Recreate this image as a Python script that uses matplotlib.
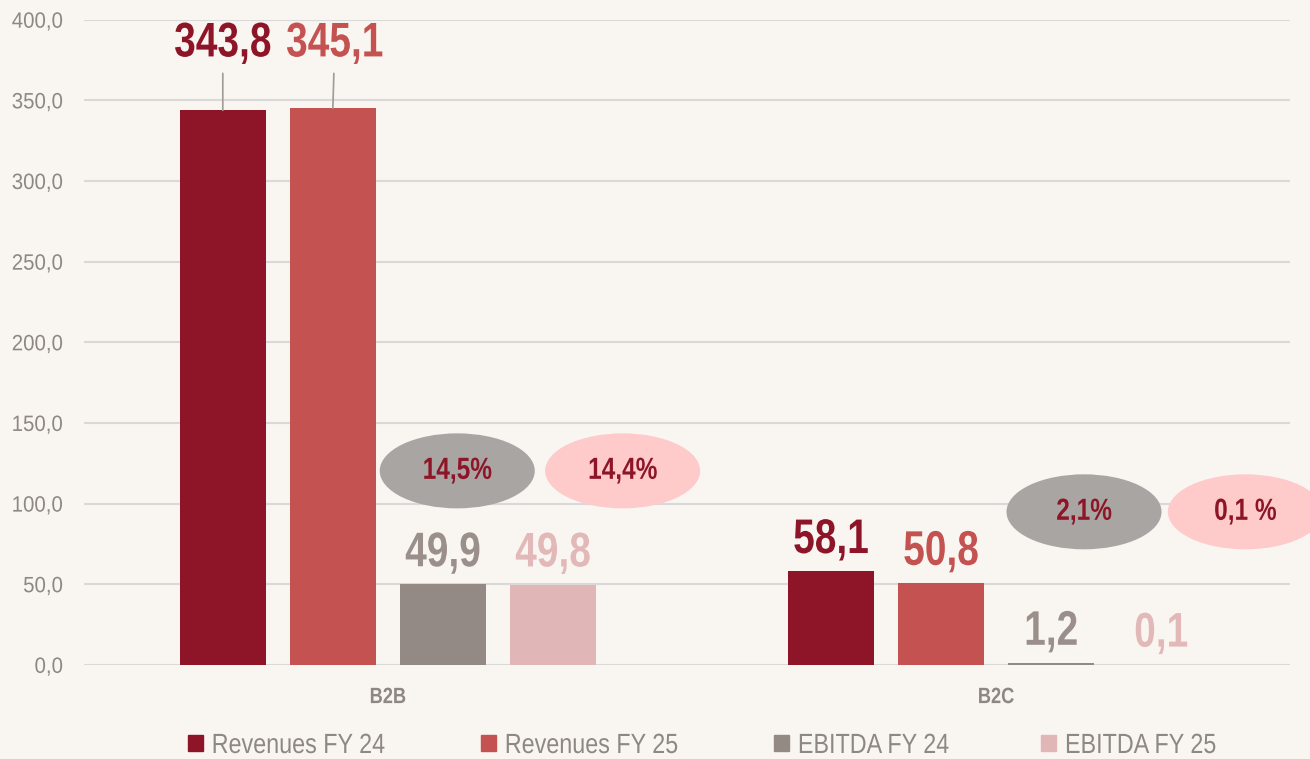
import matplotlib
matplotlib.use('Agg')
import numpy as np
import matplotlib.pyplot as plt
from matplotlib.patches import Ellipse, Patch
from matplotlib.patheffects import AbstractPathEffect
from matplotlib.transforms import Affine2D

plt.rcParams['font.family'] = ['Liberation Sans', 'DejaVu Sans']

# ===== Data =====
categories = ['B2B', 'B2C']
series = ['Revenues FY 24', 'Revenues FY 25', 'EBITDA FY 24', 'EBITDA FY 25']
revenues_fy24 = [343.8, 58.1]
revenues_fy25 = [345.1, 50.8]
ebitda_fy24 = [49.9, 1.2]
ebitda_fy25 = [49.8, 0.1]
margin_fy24 = ['14,5%', '2,1%']
margin_fy25 = ['14,4%', '0,1 %']
yticks = [0, 50, 100, 150, 200, 250, 300, 350, 400]

bar_colors = ['#8E1528', '#C45250', '#948A85', '#E0B6B6']
label_colors = ['#8E1528', '#C45250', '#9A8F8A', '#E2B8B8']
bg = '#F9F6F2'
grey_txt = '#8F8783'


class Squeeze(AbstractPathEffect):
    """narrow the glyphs horizontally (no Arial Narrow here)"""
    def __init__(self, sx, anchor='center'):
        super().__init__()
        self.sx = sx
        self.anchor = anchor

    def draw_path(self, renderer, gc, tpath, affine, rgbFace=None):
        ext = tpath.get_extents()
        cx = {'left': ext.x0, 'right': ext.x1}.get(self.anchor, (ext.x0 + ext.x1) / 2)
        t = Affine2D().translate(-cx, 0).scale(self.sx, 1).translate(cx, 0) + affine
        renderer.draw_path(gc, tpath, t, rgbFace)


fig = plt.figure(figsize=(13.1, 7.59), dpi=100, facecolor=bg)
ax = fig.add_axes([0.064, 0.124, 0.921, 0.85])
ax.set_facecolor(bg)

x = np.arange(len(categories))
width = 0.1414
step = 0.181
values = [revenues_fy24, revenues_fy25, ebitda_fy24, ebitda_fy25]
narrow = [Squeeze(0.8)]

for i, vals in enumerate(values):
    pos = x + (i - 1.5) * step
    ax.bar(pos, vals, width, color=bar_colors[i], zorder=3, label=series[i])
    for j, v in enumerate(vals):
        txt = f'{v:.1f}'.replace('.', ',')
        if v > 300:
            # big bars: label on top with leader line
            ax.annotate(txt, xy=(pos[j], v), xytext=(pos[j] + 0.003 * i, 385),
                        ha='center', va='center', fontsize=35, fontweight='bold',
                        color=label_colors[i], path_effects=narrow,
                        arrowprops=dict(arrowstyle='-', color='#A09A96', lw=1.2,
                                        shrinkA=3, shrinkB=0))
        else:
            ax.text(pos[j], v + 19, txt, ha='center', va='center', fontsize=35,
                    fontweight='bold', color=label_colors[i], zorder=4,
                    path_effects=narrow)

# EBITDA margin ellipses
ell_y = [120.3, 94.9]
ell_dx = [[0.114, 0.386], [0.1447, 0.41]]
ell_colors = ['#A9A5A2', '#FECACA']
margins = [margin_fy24, margin_fy25]
for j in range(len(categories)):
    for k in range(2):
        cx = x[j] + ell_dx[j][k]
        e = Ellipse((cx, ell_y[j]), 0.255, 46.5, facecolor=ell_colors[k],
                    edgecolor='none', zorder=5, clip_on=False)
        ax.add_patch(e)
        ax.text(cx, ell_y[j], margins[k][j], ha='center', va='center', fontsize=22,
                fontweight='bold', color='#8E1528', zorder=6, clip_on=False,
                path_effects=[Squeeze(0.8)])

ax.set_xlim(-0.5, 1.484)
ax.set_ylim(0, 400)
ax.set_yticks(yticks)
ax.set_yticklabels([f'{t:.1f}'.replace('.', ',') for t in yticks], fontsize=16,
                   color=grey_txt, path_effects=[Squeeze(0.92, 'right')])
ax.set_xticks(x)
ax.set_xticklabels(categories, fontsize=16, fontweight='bold', color=grey_txt,
                   path_effects=[Squeeze(0.82)])
ax.tick_params(length=0, axis='y', pad=15)
ax.tick_params(length=0, axis='x', pad=16)
ax.grid(axis='y', color='#D9D9D9', lw=1.5, zorder=0)
for s in ax.spines.values():
    s.set_visible(False)

handles = [Patch(color=c) for c in bar_colors]
leg = fig.legend(handles, series, loc='center left', bbox_to_anchor=(188 / 1310, 13 / 759),
                 ncol=4, frameon=False, fontsize=20, labelcolor=grey_txt,
                 handlelength=0.54, handleheight=0.54, handletextpad=0.3,
                 columnspacing=2.3, borderpad=0, borderaxespad=0)
for t in leg.get_texts():
    t.set_path_effects([Squeeze(0.84, 'left')])

fig.savefig('out.png', dpi=100, facecolor=bg)
